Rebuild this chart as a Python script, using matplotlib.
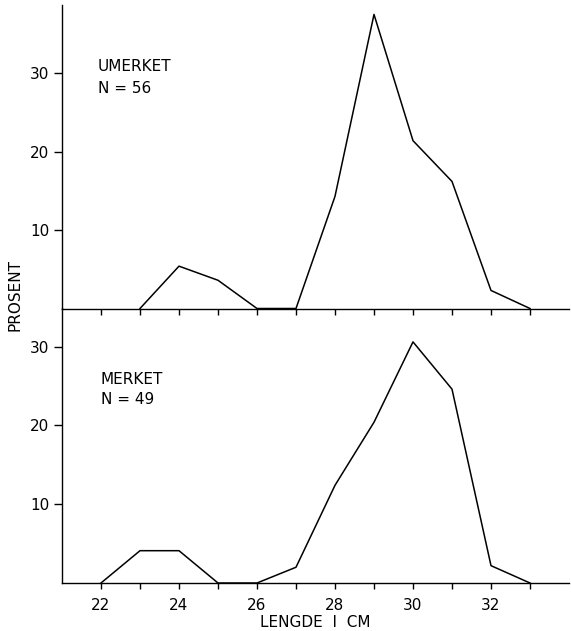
import matplotlib
matplotlib.use("Agg")
import matplotlib.pyplot as plt

# Data (percent by length class, cm)
lengths_umerket = [23, 24, 25, 26, 27, 28, 29, 30, 31, 32, 33]
pct_umerket = [0, 5.4, 3.6, 0, 0, 14.3, 37.5, 21.4, 16.2, 2.3, 0]

lengths_merket = [22, 23, 24, 25, 26, 27, 28, 29, 30, 31, 32, 33]
pct_merket = [0, 4.1, 4.1, 0, 0, 2.0, 12.4, 20.4, 30.6, 24.6, 2.2, 0]

x_ticks = list(range(22, 34))
x_ticklabels = [str(t) if t % 2 == 0 else "" for t in x_ticks]
y_ticks = [10, 20, 30]
y_ticklabels = ["10", "20", "30"]

plt.rcParams['font.family'] = ['DejaVu Sans']
W, H = 571, 631
fig = plt.figure(figsize=(W / 100, H / 100), dpi=100)

left = 62 / W
right = 569 / W
ax_bot = fig.add_axes([left, (H - 583) / H, right - left, 275 / H])
ax_top = fig.add_axes([left, (H - 308.5) / H, right - left, 303.5 / H])

for ax in (ax_top, ax_bot):
    ax.patch.set_visible(False)
    ax.spines['top'].set_visible(False)
    ax.spines['right'].set_visible(False)
    for s in ('left', 'bottom'):
        ax.spines[s].set_linewidth(1.0)
        ax.spines[s].set_color('black')
    ax.set_xlim(21, 34)
    ax.set_xticks(x_ticks)
    ax.set_yticks(y_ticks)
    ax.set_yticklabels(y_ticklabels)
    ax.tick_params(axis='y', direction='out', length=6, width=1.0, pad=3, labelsize=11)
    ax.tick_params(axis='x', direction='out', length=4.5, width=1.0, pad=6, labelsize=11)

ax_top.set_ylim(0, 38.7)
ax_bot.set_ylim(0, 34.9)
ax_top.set_xticklabels([])
ax_bot.set_xticklabels(x_ticklabels)

ax_top.plot(lengths_umerket, pct_umerket, color='black', lw=1.1, clip_on=False)
ax_bot.plot(lengths_merket, pct_merket, color='black', lw=1.1, clip_on=False)

ax_top.text(21.92, 30.8, "UMERKET", fontsize=11, ha='left', va='center')
ax_top.text(21.92, 28.1, "N = 56", fontsize=11, ha='left', va='center')
ax_bot.text(22.0, 25.8, "MERKET", fontsize=11, ha='left', va='center')
ax_bot.text(22.0, 23.3, "N = 49", fontsize=11, ha='left', va='center')

ax_bot.set_xlabel("LENGDE  I  CM", fontsize=11, labelpad=2)
fig.text(15 / W, 1 - 295 / H, "PROSENT", rotation=90, fontsize=11, ha='center', va='center')

fig.savefig("out.png", dpi=100)
